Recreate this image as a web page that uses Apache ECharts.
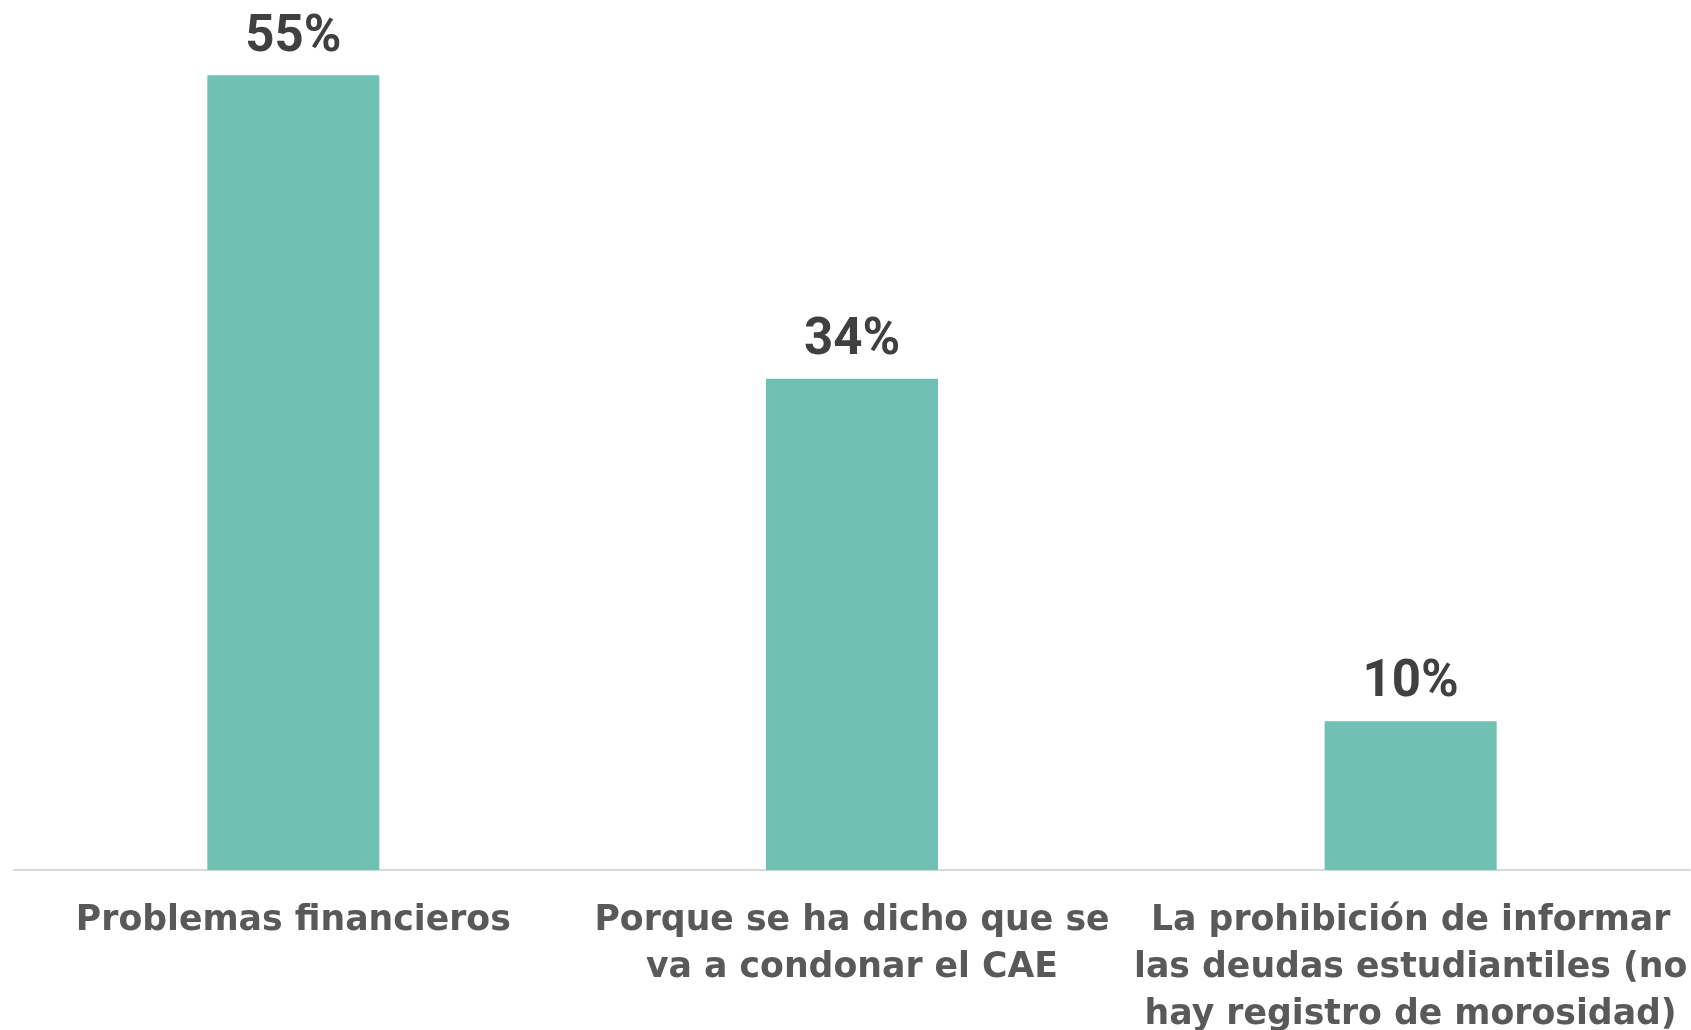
<!DOCTYPE html>
<html>
<head>
<meta charset="utf-8">
<script src="https://cdn.jsdelivr.net/npm/echarts@6/dist/echarts.min.js"></script>
<style>
html,body{margin:0;padding:0;background:#fff;}
#chart{width:1691px;height:1030px;}
</style>
</head>
<body>
<div id="chart"></div>
<script>
const categories = [
  "Problemas financieros",
  "Porque se ha dicho que se\nva a condonar el CAE",
  "La prohibición de informar\nlas deudas estudiantiles (no\nhay registro de morosidad)"
];
const values = [55, 34, 10.3];

const chart = echarts.init(document.getElementById('chart'));
chart.setOption({
  animation: false,
  grid: { left: 14, right: 1, top: 3, bottom: 160, containLabel: false, outerBoundsMode: 'none' },
  xAxis: {
    type: 'category',
    data: categories,
    axisLine: { lineStyle: { color: '#d9d9d9', width: 2 } },
    axisTick: { show: false },
    axisLabel: {
      interval: 0,
      color: '#595959',
      fontFamily: 'DejaVu Sans',
      fontWeight: 'bold',
      fontSize: 34.7,
      lineHeight: 47,
      margin: 27,
      align: 'center'
    }
  },
  yAxis: {
    type: 'value',
    min: 0,
    max: 60,
    show: false,
    splitLine: { show: false }
  },
  series: [{
    type: 'bar',
    data: values,
    barWidth: 172,
    itemStyle: { color: '#70c1b3' },
    label: {
      show: true,
      position: 'top',
      distance: 12,
      color: '#404040',
      fontFamily: 'Roboto',
      fontWeight: 'bold',
      fontSize: 51,
      formatter: p => Math.round(p.value) + '%'
    }
  }]
});
</script>
</body>
</html>
